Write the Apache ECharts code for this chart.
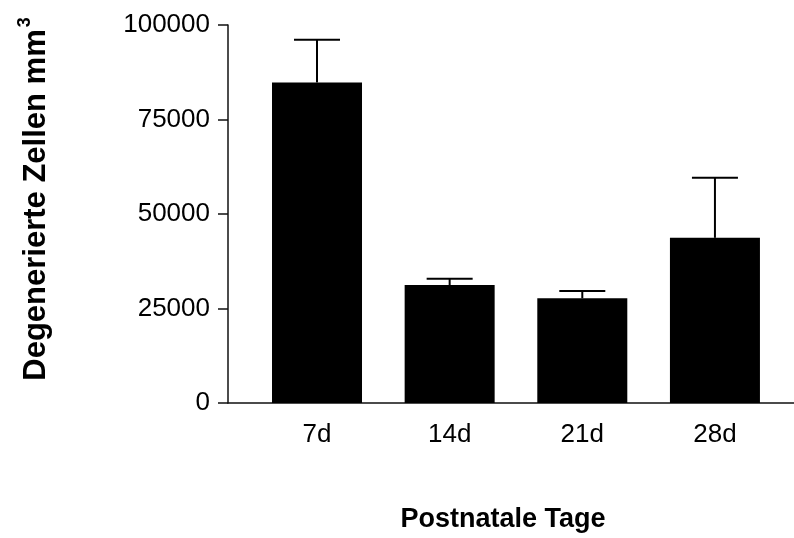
<!DOCTYPE html>
<html>
<head>
<meta charset="utf-8">
<script src="https://cdn.jsdelivr.net/npm/echarts@6/dist/echarts.min.js"></script>
<style>html,body{margin:0;padding:0;background:#fff}#c{width:794px;height:538px}</style>
</head>
<body>
<div id="c"></div>
<script>
const categories = ['7d', '14d', '21d', '28d'];
const means = [84800, 31200, 27700, 43700];
const upper = [96100, 32900, 29600, 59600];
const yTicks = [0, 25000, 50000, 75000, 100000];

const FONT = 'Liberation Sans, Arial, Helvetica, sans-serif';
const chart = echarts.init(document.getElementById('c'), null, {renderer: 'canvas'});

const barData = categories.map((c, i) => [i, means[i]]);
const errData = categories.map((c, i) => [i, means[i], upper[i]]);

chart.setOption({
  animation: false,
  backgroundColor: '#fff',
  grid: {left: 228, right: 0, top: 25, bottom: 129, containLabel: false},
  xAxis: {
    type: 'value',
    min: -0.671,
    max: 3.596,
    splitLine: {show: false},
    axisTick: {show: false},
    axisLine: {show: true, onZero: false, lineStyle: {color: '#111', width: 1.5}},
    axisLabel: {
      customValues: [0, 1, 2, 3],
      formatter: v => categories[Math.round(v)],
      color: '#000', fontSize: 26, fontFamily: FONT, margin: 19
    },
    name: 'Postnatale Tage',
    nameLocation: 'middle',
    nameGap: 103,
    nameTextStyle: {color: '#000', fontSize: 27, fontWeight: 'bold', fontFamily: FONT, padding: [0, 16, 0, 0]}
  },
  yAxis: {
    type: 'value',
    min: 0,
    max: 100000,
    interval: 25000,
    splitLine: {show: false},
    axisLine: {show: true, onZero: false, lineStyle: {color: '#111', width: 1.5}},
    axisTick: {show: true, length: 10, lineStyle: {color: '#111', width: 1.5}},
    axisLabel: {
      customValues: yTicks,
      formatter: v => String(v),
      color: '#000', fontSize: 26, fontFamily: FONT, margin: 18
    },
    name: '{a|Degenerierte Zellen mm}{s|3}',
    nameLocation: 'middle',
    nameGap: 172,
    nameTextStyle: {
      padding: [0, 0, 0, 30],
      rich: {
        a: {color: '#000', fontSize: 31, fontWeight: 'bold', fontFamily: FONT},
        s: {color: '#000', fontSize: 18, fontWeight: 'bold', fontFamily: FONT, verticalAlign: 'top', padding: [0, 0, 22, 2]}
      }
    }
  },
  series: [
    {
      type: 'bar',
      data: barData,
      barWidth: 90,
      itemStyle: {color: '#000'}
    },
    {
      type: 'custom',
      data: errData,
      z: 1,
      renderItem: function (params, api) {
        const x = api.value(0);
        const p0 = api.coord([x, api.value(1)]);
        const p1 = api.coord([x, api.value(2)]);
        const hw = 23;
        const st = {stroke: '#000', lineWidth: 2};
        return {
          type: 'group',
          children: [
            {type: 'line', shape: {x1: p0[0], y1: p0[1], x2: p1[0], y2: p1[1]}, style: st},
            {type: 'line', shape: {x1: p1[0] - hw, y1: p1[1], x2: p1[0] + hw, y2: p1[1]}, style: st}
          ]
        };
      }
    }
  ]
});
</script>
</body>
</html>
